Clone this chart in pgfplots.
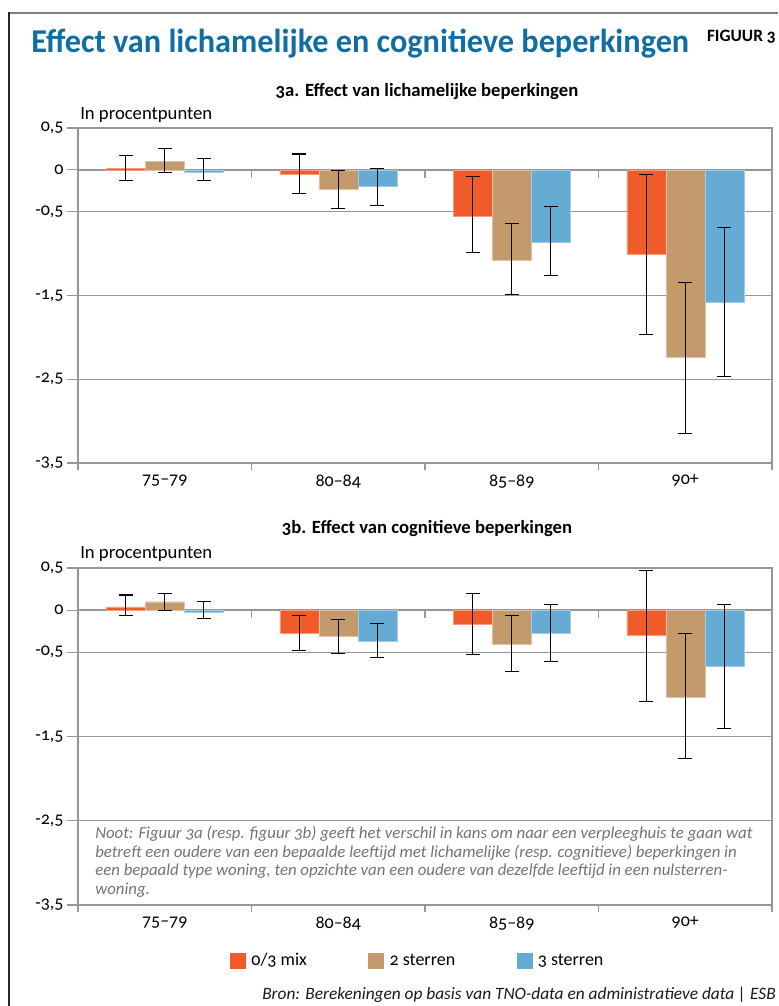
\documentclass[border=0pt]{standalone}
\usepackage{pgfplots}
\pgfplotsset{compat=1.18}
\usepackage{pgfplotstable}
\usepackage{fontspec}
\setmainfont{Carlito}[Numbers=OldStyle]
\definecolor{cOr}{RGB}{241,90,41}
\definecolor{cTan}{RGB}{196,154,108}
\definecolor{cBl}{RGB}{101,171,211}
\definecolor{cTitle}{RGB}{16,110,162}
\definecolor{cGrid}{RGB}{150,150,150}

% columns: x y (bar value)  ep (error plus)  em (error minus)
\pgfplotstableread{
x y ep em
0 0.02 0.15 0.15
1 -0.05 0.24 0.23
2 -0.55 0.47 0.44
3 -1.01 0.95 0.96
}\aOr
\pgfplotstableread{
x y ep em
0 0.10 0.15 0.13
1 -0.23 0.22 0.23
2 -1.08 0.44 0.41
3 -2.24 0.90 0.91
}\aTan
\pgfplotstableread{
x y ep em
0 -0.03 0.17 0.10
1 -0.20 0.22 0.23
2 -0.86 0.42 0.40
3 -1.58 0.89 0.89
}\aBl
\pgfplotstableread{
x y ep em
0 0.04 0.14 0.10
1 -0.27 0.21 0.21
2 -0.17 0.37 0.36
3 -0.30 0.77 0.78
}\bOr
\pgfplotstableread{
x y ep em
0 0.10 0.10 0.10
1 -0.31 0.20 0.20
2 -0.41 0.35 0.32
3 -1.03 0.75 0.73
}\bTan
\pgfplotstableread{
x y ep em
0 -0.025 0.125 0.075
1 -0.37 0.21 0.19
2 -0.27 0.34 0.34
3 -0.67 0.74 0.74
}\bBl

\pgfplotsset{
  myax/.style={
    scale only axis,
    width=520.5pt,
    ymin=-3.5, ymax=0.5,
    xmin=-0.5, xmax=3.5,
    ybar=0pt, bar width=29.25pt,
    ytick={-3.5,-2.5,-1.5,-0.5,0,0.5},
    yticklabels={{-3,5},{-2,5},{-1,5},{-0,5},0,{0,5}},
    xtick={-0.5,0.5,1.5,2.5,3.5},
    x tick label as interval,
    xticklabels={75–79,80–84,85–89,90+},
    ytick pos=left, xtick pos=bottom,
    tick align=outside,
    ytick style={cGrid, line width=0.8pt, /pgfplots/major tick length=8.25pt},
    xtick style={cGrid, line width=0.8pt, /pgfplots/major tick length=5.5pt},
    axis line style={cGrid, line width=0.8pt},
    ymajorgrids,
    major grid style={cGrid, line width=1pt},
    tick label style={font=\fontsize{13.5}{15}\selectfont, text=black},
    yticklabel style={xshift=-3pt},
    xticklabel style={yshift=-1pt},
    error bars/y dir=both,
    error bars/y explicit,
    error bars/error bar style={black, line width=0.8pt},
    error bars/error mark options={rotate=90, black, mark size=5.25pt, line width=0.8pt},
  },
  bstyle/.style={fill=#1, draw=#1!60!white, line width=0.3pt},
}

\begin{document}
\begin{tikzpicture}[x=0.75pt,y=-0.75pt]
\useasboundingbox (0,0) rectangle (778,1006);
% frame
\draw[gray, line width=1.2pt] (9,13) -- (778,13);
\draw[black!85, line width=1.5pt] (9,12.5) -- (9,1006);
% title
\node[anchor=base west, inner sep=0pt, text=cTitle] at (31,53)
  {\resizebox{493.5pt}{\height}{\fontsize{25}{28}\selectfont\bfseries Effect van lichamelijke en cognitieve beperkingen}};
\node[anchor=base east, inner sep=0pt] at (776,42)
  {\fontsize{13}{14}\selectfont\bfseries FIGUUR 3};

% ---- 3a
\node[anchor=base, inner sep=0pt] at (427,96) {\fontsize{14}{16}\selectfont\bfseries 3a. Effect van lichamelijke beperkingen};
\node[anchor=base west, inner sep=0pt] at (80,119) {\fontsize{14}{16}\selectfont In procentpunten};
\begin{axis}[myax, height=251.25pt, at={(58.5pt,-347.25pt)}, anchor=south west]
\addplot[bstyle=cOr] table[x=x,y=y,y error plus=ep,y error minus=em]{\aOr};
\addplot[bstyle=cTan] table[x=x,y=y,y error plus=ep,y error minus=em]{\aTan};
\addplot[bstyle=cBl] table[x=x,y=y,y error plus=ep,y error minus=em]{\aBl};
\draw[cGrid, line width=0.8pt] (axis cs:0.5,0) -- ++(0pt,-6pt) (axis cs:1.5,0) -- ++(0pt,-6pt) (axis cs:2.5,0) -- ++(0pt,-6pt);
\end{axis}

% ---- 3b
\node[anchor=base, inner sep=0pt] at (427,533) {\fontsize{14}{16}\selectfont\bfseries 3b. Effect van cognitieve beperkingen};
\node[anchor=base west, inner sep=0pt] at (80,558) {\fontsize{14}{16}\selectfont In procentpunten};
\begin{axis}[myax, height=252.75pt, at={(58.5pt,-678.75pt)}, anchor=south west,
  legend columns=3,
  legend style={at={(0.49,-0.165)}, anchor=center, draw=none, fill=none,
    font=\fontsize{13.5}{15}\selectfont,
    /tikz/every odd column/.append style={column sep=2pt},
    /tikz/every even column/.append style={column sep=44pt}},
  legend image code/.code={\fill[#1, draw=none] (0pt,-6pt) rectangle (12pt,6pt);},
]
\addplot[bstyle=cOr] table[x=x,y=y,y error plus=ep,y error minus=em]{\bOr};
\addlegendentry{0/3 mix}
\addplot[bstyle=cTan] table[x=x,y=y,y error plus=ep,y error minus=em]{\bTan};
\addlegendentry{2 sterren}
\addplot[bstyle=cBl] table[x=x,y=y,y error plus=ep,y error minus=em]{\bBl};
\addlegendentry{3 sterren}
\draw[cGrid, line width=0.8pt] (axis cs:0.5,0) -- ++(0pt,-6pt) (axis cs:1.5,0) -- ++(0pt,-6pt) (axis cs:2.5,0) -- ++(0pt,-6pt);
\end{axis}

% note
\node[anchor=north west, inner sep=0pt, align=left, text=black!55,
  font=\fontsize{12.6}{13.9}\selectfont\itshape] at (95,826)
{Noot: Figuur 3a (resp. figuur 3b) geeft het verschil in kans om naar een verpleeghuis te gaan wat\\
betreft een oudere van een bepaalde leeftijd met lichamelijke (resp. cognitieve) beperkingen in\\
een bepaald type woning, ten opzichte van een oudere van dezelfde leeftijd in een nulsterren-\\
woning.};
% source
\node[anchor=base east, inner sep=0pt, text=black!90,
  font=\fontsize{13}{15}\selectfont\itshape] at (776,999)
{Bron: Berekeningen op basis van TNO-data en administratieve data | ESB};
\end{tikzpicture}
\end{document}
